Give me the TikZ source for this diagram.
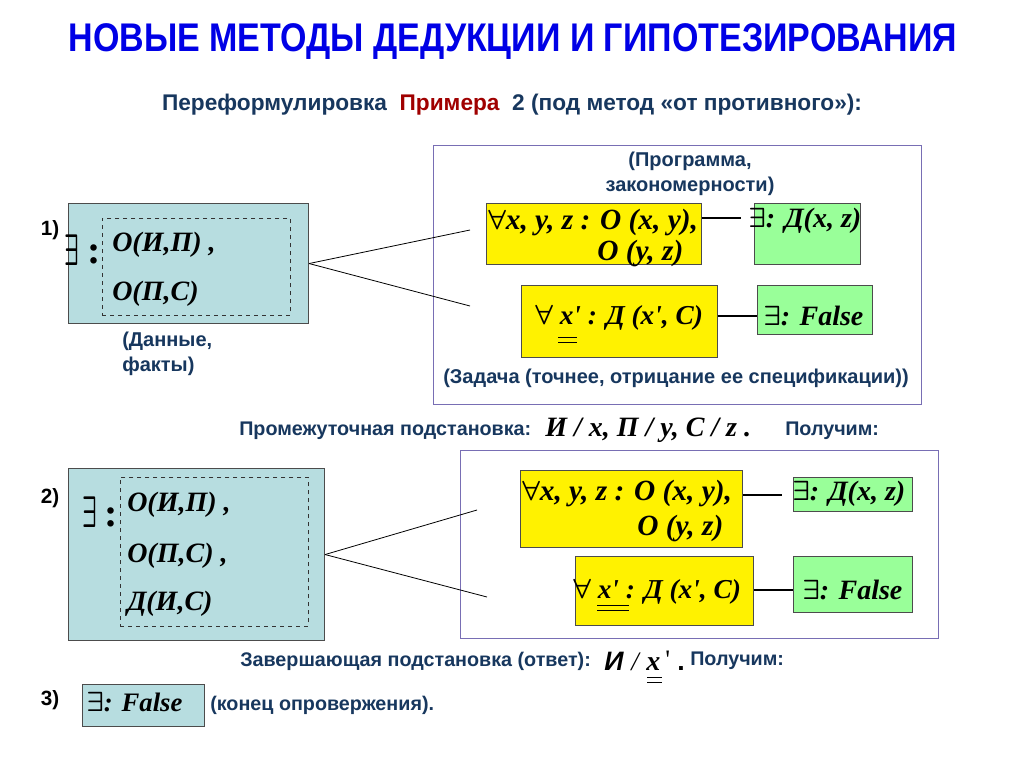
\documentclass[tikz,border=0pt]{standalone}
\usepackage{fontspec}
\usepackage{graphicx}
\setmainfont{Liberation Serif}
\setsansfont{Liberation Sans}
\newfontfamily\narrowsans[FakeStretch=0.85]{Liberation Sans}
\usetikzlibrary{calc}
\definecolor{ttl}{RGB}{0,0,230}
\definecolor{dblue}{RGB}{23,55,94}
\definecolor{dred}{RGB}{160,0,0}
\definecolor{lblue}{RGB}{183,221,224}
\definecolor{lgreen}{RGB}{153,255,153}
\definecolor{frmc}{RGB}{120,110,180}
\newdimen\px \px=0.75pt
\newcommand\EX{{\boldmath$\exists$}}
\newcommand\FA{{\boldmath$\forall$}}
\newcommand\prm{\textquotesingle}
\newcommand\BigEX{\resizebox{11pt}{23pt}{\boldmath$\exists$}}
\begin{document}
\begin{tikzpicture}[x=0.75pt,y=-0.75pt,
  lab/.style={font=\sffamily\bfseries\fontsize{15}{18.5}\selectfont, text=dblue, inner sep=0},
  nlab/.style={font=\sffamily\bfseries\fontsize{14.8}{17}\selectfont, text=dblue, inner sep=0},
  fml/.style={font=\rmfamily\bfseries\itshape\fontsize{21}{24}\selectfont, inner sep=0},
  fmlw/.style={font=\rmfamily\bfseries\itshape\fontsize{22}{25}\selectfont, inner sep=0},
  fmlx/.style={font=\rmfamily\bfseries\itshape\fontsize{20.5}{24}\selectfont, inner sep=0},
  num/.style={font=\sffamily\bfseries\fontsize{15.5}{17}\selectfont, inner sep=0},
  databox/.style={draw=black!70, fill=lblue, line width=0.8pt, anchor=north west, inner sep=0},
  ybox/.style={draw=black!70, fill=yellow, line width=0.6pt, anchor=north west, inner sep=0},
  gbox/.style={draw=black!70, fill=lgreen, line width=0.6pt, anchor=north west, inner sep=0},
  frame/.style={draw=frmc, line width=0.7pt, anchor=north west, inner sep=0},
  dash box/.style={draw=black!80, dashed, line width=0.6pt, anchor=north west, inner sep=0},
  thinline/.style={line width=0.6pt},
  thickline/.style={line width=1.5pt},
  dbl/.style={line width=0.6pt}
]
\useasboundingbox (0,0) rectangle (1024,768);
\fill[white] (0,0) rectangle (1024,768);

% title
\node[font=\narrowsans\bfseries\fontsize{30}{33}\selectfont, text=ttl, inner sep=0] (title) at (513,42) {НОВЫЕ МЕТОДЫ ДЕДУКЦИИ И ГИПОТЕЗИРОВАНИЯ};
\node[font=\sffamily\bfseries\fontsize{17}{20}\selectfont, text=dblue, inner sep=0] (sub) at (512,105) {Переформулировка\ \ \textcolor{dred}{Примера}\ \ 2 (под метод «от противного»):};

% ---------- part 1 ----------
\node[num] (n1) at (50,230) {1)};
\node[databox, minimum width=240\px, minimum height=120\px] (d1) at (68,203) {};
\node[dash box, minimum width=188\px, minimum height=97\px] (in1) at (102,218) {};
\node[inner sep=0] (e1) at (72,250) {\BigEX};
\node[inner sep=0, font=\rmfamily\bfseries\fontsize{30}{30}\selectfont] (c1) at (94,254) {:};
\node[fml, anchor=west] (d1a) at (112,245) {О(И,П) ,};
\node[fml, anchor=west] (d1b) at (112,294) {О(П,С)};
\node[lab, anchor=north west, align=left] (dat1) at (122,332) {(Данные,\\факты)};

\node[frame, minimum width=488\px, minimum height=259\px] (f1) at (433,145) {};
\node[lab, align=center] (prog1) at (690,174) {(Программа,\\закономерности)};
\node[ybox, minimum width=215\px, minimum height=61\px] (yA) at (486,203) {};
\node[fmlw, anchor=west] (yA1) at (488,222) {\FA x, y, z : О (x, y),};
\node[fmlw, anchor=west] (yA2) at (597,253) {О (y, z)};
\node[gbox, minimum width=106\px, minimum height=61\px] (gB) at (754,203) {};
\node[fml, anchor=west] (gB1) at (748,221) {\EX: Д(x, z)};
\node[ybox, minimum width=196\px, minimum height=72\px] (yC) at (521,285) {};
\node[fmlx, anchor=west] (yC1) at (535,318) {\FA\ x\prm\ : Д (x\prm, C)};
\node[gbox, minimum width=115\px, minimum height=49\px] (gD) at (757,285) {};
\node[fml, anchor=west] (gD1) at (763,316) {\EX: False};
\node[lab] (task1) at (676,378) {(Задача (точнее, отрицание ее спецификации))};
\draw[dbl] (558,337) -- (577,337) (558,342) -- (577,342);

\coordinate (t1a) at (470,230);
\coordinate (t1b) at (470,306);
\draw[thinline] (d1.east) -- (t1a);
\draw[thinline] (d1.east) -- (t1b);
\coordinate (cAB) at (741,218);
\draw[thickline] (yA.east |- cAB) -- (cAB);
\draw[thickline] (yC.east |- gD1) -- (gD.west |- gD1);

% substitution line
\node[nlab, anchor=west] (sub1) at (239,431) {Промежуточная подстановка:};
\node[fml, anchor=west] (sub1f) at (545,430) {И / x, П / y, С / z .};
\node[nlab, anchor=west] (get1) at (785,431) {Получим:};

% ---------- part 2 ----------
\node[num] (n2) at (50,498) {2)};
\node[databox, minimum width=256\px, minimum height=172\px] (d2) at (68,468) {};
\node[dash box, minimum width=188\px, minimum height=149\px] (in2) at (120,477) {};
\node[inner sep=0] (e2) at (90,512) {\BigEX};
\node[inner sep=0, font=\rmfamily\bfseries\fontsize{30}{30}\selectfont] (c2) at (111,517) {:};
\node[fml, anchor=west] (d2a) at (127,505) {О(И,П) ,};
\node[fml, anchor=west] (d2b) at (127,556) {О(П,С) ,};
\node[fml, anchor=west] (d2c) at (127,604) {Д(И,С)};

\node[frame, minimum width=478\px, minimum height=188\px] (f2) at (460,450) {};
\node[ybox, minimum width=222\px, minimum height=77\px] (yE) at (520,470) {};
\node[fmlw, anchor=west] (yE1) at (522,493) {\FA x, y, z : О (x, y),};
\node[fmlw, anchor=west] (yE2) at (637,528) {О (y, z)};
\node[gbox, minimum width=119\px, minimum height=34\px] (gF) at (793,477) {};
\node[fml, anchor=west] (gF1) at (792,494) {\EX: Д(x, z)};
\node[ybox, minimum width=178\px, minimum height=69\px] (yG) at (575,556) {};
\node[fmlx, anchor=west] (yG1) at (573,592) {\FA\ x\prm\ : Д (x\prm, C)};
\node[gbox, minimum width=119\px, minimum height=56\px] (gH) at (793,556) {};
\node[fml, anchor=west] (gH1) at (802,590) {\EX: False};
\draw[dbl] (597,605) -- (629,605) (597,610) -- (629,610);

\coordinate (t2a) at (477,510);
\coordinate (t2b) at (487,597);
\draw[thinline] (d2.east) -- (t2a);
\draw[thinline] (d2.east) -- (t2b);
\coordinate (cEF) at (782,495);
\draw[thickline] (yE.east |- cEF) -- (cEF);
\draw[thickline] (yG.east |- gH1) -- (gH.west |- gH1);

% final substitution
\node[nlab, anchor=west] (sub2) at (240,661) {Завершающая подстановка (ответ):};
\node[inner sep=0, anchor=base west, font=\sffamily\bfseries\itshape\fontsize{20}{22}\selectfont] (fI) at (604,670) {И};
\node[inner sep=0, anchor=base west, font=\rmfamily\itshape\fontsize{20}{22}\selectfont] (fS) at (631,670) {/};
\node[inner sep=0, anchor=base west, font=\rmfamily\bfseries\itshape\fontsize{21}{22}\selectfont] (fX) at (646,670) {x};
\node[inner sep=0, anchor=base west, font=\rmfamily\fontsize{20}{22}\selectfont] (fP) at (665,668) {\prm};
\node[inner sep=0, anchor=base west, font=\sffamily\bfseries\fontsize{20}{22}\selectfont] (fD) at (677,670) {.};
\draw[dbl] (647,677) -- (662,677) (647,682) -- (662,682);
\node[nlab, anchor=west] (get2) at (690,661) {Получим:};

% ---------- part 3 ----------
\node[num] (n3) at (50,700) {3)};
\node[databox, minimum width=122\px, minimum height=42\px, line width=0.6pt] (d3) at (82,684) {};
\node[fml, font=\rmfamily\bfseries\itshape\fontsize{20}{24}\selectfont, anchor=west] (d3a) at (86,702) {\EX: False};
\node[nlab, anchor=west] (end3) at (210,705) {(конец опровержения).};
\end{tikzpicture}
\end{document}
